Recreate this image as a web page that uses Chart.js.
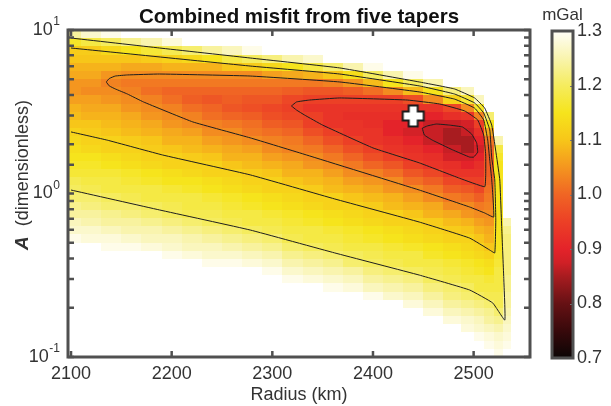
<!DOCTYPE html>
<html>
<head>
<meta charset="utf-8">
<title>Combined misfit from five tapers</title>
<script src="https://cdn.jsdelivr.net/npm/chart.js@4.4.1/dist/chart.umd.min.js"></script>
<style>
  body { margin: 0; background: #fff; }
  #wrap { position: relative; width: 611px; height: 406px; }
  #main { position: absolute; left: 0; top: 0; }
  #bar { position: absolute; left: 535px; top: 0; }
</style>
</head>
<body>
<div id="wrap">
  <canvas id="main" width="611" height="406"></canvas>
  <canvas id="bar" width="76" height="406"></canvas>
</div>
<script>
const _ = null; // off the top of the colour scale (white)

// grid columns: radius (km)
const radius = [2100, 2120, 2140, 2160, 2180, 2200, 2220, 2240, 2260, 2280, 2300, 2320, 2340,
  2360, 2380, 2400, 2420, 2440, 2460, 2480, 2495, 2505, 2515, 2525, 2533];
// grid rows: A (dimensionless), top row first
const amplitude = [9.44, 8.41, 7.50, 6.68, 5.96, 5.31, 4.73, 4.22, 3.76, 3.35,
  2.99, 2.66, 2.37, 2.11, 1.88, 1.68, 1.50, 1.33, 1.19, 1.06,
  0.944, 0.841, 0.750, 0.668, 0.596, 0.531, 0.473, 0.422, 0.376, 0.335,
  0.299, 0.266, 0.237, 0.211, 0.188, 0.168, 0.150, 0.133, 0.119, 0.106];

// combined misfit (mGal), one list per radius column, rows in amplitude order
const misfit = [
  [1.24,1.16,1.11,1.10,1.08,1.07,1.05,1.05,1.06,1.08, 1.09,1.10,1.12,1.13,1.14,1.15,1.16,1.17,1.19,1.20, 1.21,1.23,1.24,1.26,1.27,1.29,_,_,_,_, _,_,_,_,_,_,_,_,_,_],
  [1.27,1.18,1.11,1.10,1.08,1.07,1.05,1.04,1.06,1.07, 1.08,1.10,1.11,1.12,1.13,1.15,1.16,1.17,1.18,1.19, 1.21,1.22,1.24,1.25,1.27,1.28,_,_,_,_, _,_,_,_,_,_,_,_,_,_],
  [1.29,1.20,1.13,1.10,1.08,1.05,1.03,1.04,1.05,1.07, 1.08,1.09,1.10,1.12,1.12,1.14,1.15,1.17,1.18,1.18, 1.20,1.21,1.23,1.24,1.26,1.28,1.29,_,_,_, _,_,_,_,_,_,_,_,_,_],
  [_,1.23,1.15,1.10,1.07,1.04,1.02,1.03,1.04,1.05, 1.07,1.08,1.09,1.11,1.12,1.13,1.14,1.16,1.17,1.18, 1.19,1.21,1.22,1.24,1.25,1.27,1.29,_,_,_, _,_,_,_,_,_,_,_,_,_],
  [_,1.25,1.17,1.11,1.07,1.04,1.02,1.01,1.03,1.04, 1.05,1.07,1.08,1.10,1.11,1.12,1.13,1.15,1.16,1.18, 1.18,1.20,1.21,1.23,1.25,1.26,1.28,_,_,_, _,_,_,_,_,_,_,_,_,_],
  [_,1.28,1.19,1.12,1.08,1.04,1.02,1.00,1.01,1.03, 1.04,1.05,1.07,1.08,1.10,1.12,1.12,1.14,1.15,1.17, 1.18,1.19,1.20,1.22,1.24,1.26,1.27,1.29,_,_, _,_,_,_,_,_,_,_,_,_],
  [_,_,1.21,1.13,1.08,1.04,1.02,1.00,0.99,1.01, 1.03,1.04,1.06,1.08,1.09,1.11,1.12,1.13,1.15,1.16, 1.18,1.18,1.19,1.21,1.23,1.25,1.26,1.28,_,_, _,_,_,_,_,_,_,_,_,_],
  [_,_,1.24,1.15,1.08,1.04,1.02,1.00,0.98,1.00, 1.01,1.03,1.04,1.06,1.08,1.10,1.12,1.12,1.14,1.15, 1.17,1.18,1.19,1.20,1.22,1.24,1.26,1.27,1.29,_, _,_,_,_,_,_,_,_,_,_],
  [_,_,1.26,1.18,1.10,1.04,1.02,1.00,0.99,0.98, 1.00,1.02,1.04,1.05,1.07,1.08,1.10,1.12,1.13,1.14, 1.16,1.17,1.18,1.19,1.21,1.23,1.25,1.27,1.29,_, _,_,_,_,_,_,_,_,_,_],
  [_,_,1.29,1.20,1.11,1.04,1.02,1.00,0.98,0.97, 0.99,1.01,1.02,1.04,1.06,1.08,1.09,1.11,1.12,1.13, 1.15,1.16,1.18,1.18,1.20,1.22,1.24,1.26,1.28,_, _,_,_,_,_,_,_,_,_,_],
  [_,_,_,1.22,1.13,1.06,1.02,1.00,0.98,0.96, 0.97,0.99,1.01,1.03,1.04,1.06,1.08,1.10,1.12,1.12, 1.14,1.15,1.17,1.18,1.19,1.21,1.23,1.25,1.27,1.29, _,_,_,_,_,_,_,_,_,_],
  [_,_,_,1.25,1.15,1.07,1.02,0.99,0.96,0.95, 0.96,0.98,1.00,1.02,1.03,1.05,1.07,1.08,1.10,1.12, 1.13,1.14,1.16,1.17,1.18,1.19,1.21,1.23,1.25,1.27, 1.29,_,_,_,_,_,_,_,_,_],
  [_,_,_,1.27,1.18,1.08,1.02,0.98,0.95,0.93, 0.95,0.95,0.97,1.00,1.02,1.04,1.05,1.08,1.09,1.11, 1.12,1.13,1.15,1.16,1.18,1.18,1.20,1.22,1.24,1.26, 1.28,_,_,_,_,_,_,_,_,_],
  [_,_,_,_,1.21,1.10,1.03,0.98,0.95,0.93, 0.93,0.93,0.95,0.97,1.00,1.02,1.04,1.06,1.08,1.09, 1.12,1.12,1.14,1.15,1.17,1.18,1.19,1.21,1.23,1.25, 1.27,1.29,_,_,_,_,_,_,_,_],
  [_,_,_,_,1.25,1.14,1.05,0.99,0.95,0.93, 0.92,0.93,0.93,0.95,0.97,1.00,1.02,1.04,1.06,1.08, 1.10,1.12,1.13,1.14,1.16,1.17,1.18,1.20,1.21,1.24, 1.26,1.28,_,_,_,_,_,_,_,_],
  [_,_,_,_,1.29,1.20,1.09,1.01,0.95,0.93, 0.92,0.92,0.93,0.93,0.95,0.97,1.00,1.03,1.05,1.07, 1.09,1.11,1.12,1.13,1.15,1.16,1.18,1.19,1.20,1.22, 1.24,1.26,1.29,_,_,_,_,_,_,_],
  [_,_,_,_,_,1.25,1.15,1.04,0.95,0.93, 0.92,0.90,0.90,0.92,0.93,0.95,0.98,1.01,1.04,1.05, 1.08,1.09,1.12,1.12,1.14,1.15,1.17,1.18,1.19,1.21, 1.23,1.25,1.27,_,_,_,_,_,_,_],
  [_,_,_,_,_,1.29,1.20,1.09,0.97,0.93, 0.92,0.90,0.88,0.90,0.92,0.93,0.95,0.98,1.01,1.04, 1.06,1.08,1.10,1.12,1.13,1.14,1.16,1.18,1.18,1.20, 1.22,1.24,1.26,1.28,_,_,_,_,_,_],
  [_,_,_,_,_,_,1.25,1.15,1.04,0.93, 0.90,0.87,0.87,0.87,0.90,0.92,0.93,0.96,0.99,1.02, 1.04,1.07,1.08,1.11,1.12,1.13,1.15,1.16,1.18,1.19, 1.20,1.22,1.24,1.26,1.28,_,_,_,_,_],
  [_,_,_,_,_,_,_,1.22,1.12,0.96, 0.92,0.87,0.85,0.85,0.87,0.88,0.92,0.93,0.96,0.99, 1.02,1.04,1.07,1.09,1.11,1.12,1.14,1.15,1.17,1.18, 1.19,1.21,1.22,1.24,1.26,1.28,_,_,_,_],
  [_,_,_,_,_,_,_,1.26,1.17,1.04, 0.93,0.88,0.87,0.85,0.85,0.88,0.90,0.93,0.95,0.98, 1.01,1.04,1.05,1.08,1.10,1.12,1.13,1.14,1.16,1.17, 1.18,1.20,1.21,1.23,1.25,1.27,1.28,_,_,_],
  [_,_,_,_,_,_,_,_,1.26,1.16, 1.03,0.95,0.92,0.90,0.88,0.90,0.92,0.93,0.95,0.96, 0.99,1.02,1.04,1.06,1.08,1.10,1.12,1.13,1.15,1.16, 1.18,1.18,1.20,1.22,1.24,1.26,1.27,1.29,_,_],
  [_,_,_,_,_,_,_,_,_,_, 1.21,1.15,1.07,1.02,1.00,0.99,0.99,0.99,1.00,1.01, 1.02,1.03,1.04,1.05,1.07,1.08,1.10,1.12,1.14,1.15, 1.17,1.18,1.19,1.21,1.23,1.24,1.26,1.28,1.29,_],
  [_,_,_,_,_,_,_,_,_,_, _,_,_,1.25,1.18,1.16,1.15,1.15,1.15,1.15, 1.15,1.15,1.15,1.15,1.15,1.15,1.15,1.16,1.17,1.18, 1.18,1.18,1.19,1.19,1.21,1.23,1.25,1.27,1.28,1.29],
  [_,_,_,_,_,_,_,_,_,_, _,_,_,_,_,_,_,_,_,_, _,_,_,1.25,1.23,1.22,1.22,1.22,1.22,1.22, 1.23,1.23,1.24,1.24,1.25,1.26,1.27,1.28,1.29,_]
];

// contour lines, [radius km, A]
const contour085 = [[2449,2.51],[2454,2.59],[2463,2.66],[2476,2.62],[2489,2.55],[2498,2.31],[2503,2.04],[2504,1.79],
  [2500,1.67],[2496,1.67],[2479,1.85],[2459,2.12],[2451,2.28],[2449,2.51]];
const contour090 = [[2319,3.43],[2324,3.63],[2337,3.73],[2367,3.84],[2434,3.73],[2466,3.53],[2491,3.20],[2504,2.82],
  [2510,2.28],[2512,1.72],[2512,1.30],[2511,1.10],[2486,1.24],[2446,1.54],[2400,1.90],[2350,2.62],[2332,3.02],
  [2324,3.24],[2319,3.43]];
const contour100 = [[2135,4.81],[2138,5.05],[2144,5.23],[2156,5.31],[2188,5.38],[2278,5.23],[2367,4.81],[2446,4.18],
  [2481,3.78],[2501,3.33],[2510,2.82],[2514,2.12],[2516,1.60],[2518,1.21],[2520,0.718],[2511,0.760],[2496,0.827],
  [2446,1.05],[2334,1.72],[2278,2.19],[2221,2.74],[2172,3.63],[2156,4.06],[2144,4.36],[2138,4.55],[2135,4.81]];
const contour110 = [[2100,7.76],[2278,6.02],[2367,5.38],[2446,4.55],[2481,4.06],[2501,3.58],[2510,3.11],[2516,2.45],
  [2518,1.65],[2521,1.21],[2522,0.689],[2521,0.433],[2516,0.451],[2496,0.534],[2446,0.669],[2362,0.926],[2278,1.30],
  [2191,1.72],[2136,2.12],[2100,2.38]];
const contour120 = [[2100,8.93],[2188,7.76],[2278,6.74],[2367,5.86],[2446,4.81],[2481,4.36],[2501,3.84],[2511,3.33],
  [2518,2.62],[2523,1.65],[2526,1.21],[2528,0.598],[2530,0.296],[2531,0.168],[2519,0.214],[2496,0.257],[2446,0.317],
  [2362,0.433],[2278,0.598],[2188,0.793],[2100,1.05]];

// best fit marker
const bestRadius = 2440;
const bestA = 2.98;

const radiusTicks = [2100, 2200, 2300, 2400, 2500];
const yTickLabels = [[10, '1'], [1, '0'], [0.1, '-1']];
const colorTicks = [0.7, 0.8, 0.9, 1.0, 1.1, 1.2, 1.3];

// colour map, mGal -> colour
const cmapLevels = [0.70, 0.75, 0.80, 0.85, 0.875, 0.90, 0.95, 1.00, 1.05, 1.10, 1.15, 1.20, 1.25, 1.30];
const cmapColors = ['#0b0505', '#38090b', '#661114', '#a81c20', '#d02026', '#e4232a', '#ec4026', '#f06524',
  '#f4961f', '#f7c619', '#f6e41c', '#f5ec5e', '#f9f4ae', '#fffef8'];

const FONT = '"Liberation Sans", Arial, Helvetica, sans-serif';
const TEXT = '#333333';
const FRAME = '#505050';
Chart.defaults.font.family = FONT;

function hexRgb(h) {
  return [parseInt(h.slice(1, 3), 16), parseInt(h.slice(3, 5), 16), parseInt(h.slice(5, 7), 16)];
}
function colorFor(v) {
  if (v <= cmapLevels[0]) return cmapColors[0];
  for (let i = 1; i < cmapLevels.length; i++) {
    if (v <= cmapLevels[i]) {
      const t = (v - cmapLevels[i - 1]) / (cmapLevels[i] - cmapLevels[i - 1]);
      const a = hexRgb(cmapColors[i - 1]), b = hexRgb(cmapColors[i]);
      return 'rgb(' + a.map((c, k) => Math.round(c + (b[k] - c) * t)).join(',') + ')';
    }
  }
  return cmapColors[cmapColors.length - 1];
}

// cell boundaries half way between grid centres
function edges(c, log) {
  const v = log ? c.map(Math.log10) : c.slice();
  const e = [v[0] - (v[1] - v[0]) / 2];
  for (let i = 1; i < v.length; i++) e.push((v[i - 1] + v[i]) / 2);
  e.push(v[v.length - 1] + (v[v.length - 1] - v[v.length - 2]) / 2);
  return log ? e.map(x => Math.pow(10, x)) : e;
}

const heatmap = {
  id: 'heatmap',
  beforeDatasetsDraw(chart) {
    const { ctx, chartArea: a, scales: { x, y } } = chart;
    const xe = edges(radius, false), ye = edges(amplitude, true);
    ctx.save();
    ctx.beginPath();
    ctx.rect(a.left, a.top, a.width, a.height);
    ctx.clip();
    misfit.forEach((col, i) => {
      const x0 = Math.round(x.getPixelForValue(xe[i])), x1 = Math.round(x.getPixelForValue(xe[i + 1]));
      col.forEach((v, j) => {
        if (v == null) return;
        const y0 = Math.round(y.getPixelForValue(ye[j])), y1 = Math.round(y.getPixelForValue(ye[j + 1]));
        ctx.fillStyle = colorFor(v);
        ctx.fillRect(x0, y0, x1 - x0, y1 - y0);
      });
    });
    ctx.restore();
  }
};

const frame = {
  id: 'frame',
  afterDatasetsDraw(chart) {
    const { ctx, chartArea: a, scales: { x, y } } = chart;
    ctx.save();
    ctx.strokeStyle = FRAME;
    ctx.lineWidth = 2.5;
    ctx.beginPath();
    radiusTicks.forEach(v => {
      const px = x.getPixelForValue(v);
      ctx.moveTo(px, a.bottom); ctx.lineTo(px, a.bottom - 6);
      ctx.moveTo(px, a.top); ctx.lineTo(px, a.top + 6);
    });
    y.ticks.forEach(t => {
      const py = y.getPixelForValue(t.value);
      ctx.moveTo(a.left, py); ctx.lineTo(a.left + 6, py);
      ctx.moveTo(a.right, py); ctx.lineTo(a.right - 6, py);
    });
    ctx.stroke();
    ctx.lineWidth = 3;
    ctx.strokeRect(a.left, a.top, a.width, a.height);

    // y tick labels with exponents
    ctx.fillStyle = TEXT;
    ctx.textBaseline = 'middle';
    ctx.textAlign = 'left';
    yTickLabels.forEach(([v, e]) => {
      const py = y.getPixelForValue(v);
      ctx.font = '12px ' + FONT;
      const ew = ctx.measureText(e).width;
      const ex = a.left - 8 - ew;
      ctx.fillText(e, ex, py - 8);
      ctx.font = '18px ' + FONT;
      const bw = ctx.measureText('10').width;
      ctx.fillText('10', ex - bw - 0.5, py);
    });

    // y axis title
    ctx.save();
    ctx.translate(23, 175);
    ctx.rotate(-Math.PI / 2);
    ctx.font = 'italic bold 19px ' + FONT;
    const wA = ctx.measureText('A').width;
    ctx.font = '18px ' + FONT;
    const rest = '  (dimensionless)';
    const wR = ctx.measureText(rest).width;
    const sx = -(wA + wR) / 2;
    ctx.font = 'italic bold 19px ' + FONT;
    ctx.fillText('A', sx, 0);
    ctx.font = '18px ' + FONT;
    ctx.fillText(rest, sx + wA, 0);
    ctx.restore();

    // title
    ctx.fillStyle = '#111';
    ctx.font = 'bold 20.5px ' + FONT;
    ctx.textAlign = 'center';
    ctx.fillText('Combined misfit from five tapers', (a.left + a.right) / 2, 17);
    ctx.restore();
  }
};

function plusImage() {
  const c = document.createElement('canvas');
  c.width = 26; c.height = 26;
  const g = c.getContext('2d');
  const m = 13, h = 10.5, w = 4.5;
  g.beginPath();
  g.moveTo(m - w, m - h); g.lineTo(m + w, m - h); g.lineTo(m + w, m - w); g.lineTo(m + h, m - w);
  g.lineTo(m + h, m + w); g.lineTo(m + w, m + w); g.lineTo(m + w, m + h); g.lineTo(m - w, m + h);
  g.lineTo(m - w, m + w); g.lineTo(m - h, m + w); g.lineTo(m - h, m - w); g.lineTo(m - w, m - w);
  g.closePath();
  g.fillStyle = '#ffffff';
  g.fill();
  g.strokeStyle = '#1a1a1a';
  g.lineWidth = 2;
  g.stroke();
  return c;
}

function contourSet(points) {
  return {
    type: 'scatter',
    data: points.map(p => ({ x: p[0], y: p[1] })),
    showLine: true,
    borderColor: '#1e1e1e',
    borderWidth: 1,
    pointRadius: 0,
    tension: 0.1,
    fill: false,
    order: 2
  };
}

new Chart(document.getElementById('main'), {
  type: 'scatter',
  data: {
    datasets: [
      {
        data: [{ x: bestRadius, y: bestA }],
        pointStyle: plusImage(),
        pointRadius: 11,
        order: 0
      },
      contourSet(contour085),
      contourSet(contour090),
      contourSet(contour100),
      contourSet(contour110),
      contourSet(contour120)
    ]
  },
  options: {
    responsive: false,
    animation: false,
    events: [],
    layout: { padding: { left: 10, right: 81, top: 30, bottom: 0 } },
    plugins: { legend: { display: false }, tooltip: { enabled: false } },
    scales: {
      x: {
        type: 'linear',
        min: 2097,
        max: 2556,
        afterBuildTicks: s => { s.ticks = radiusTicks.map(v => ({ value: v })); },
        afterFit: s => { s.height = 49; },
        ticks: { color: TEXT, font: { size: 18 }, padding: 6, maxRotation: 0, callback: v => String(v) },
        grid: { display: false, drawTicks: false },
        border: { display: false },
        title: { display: true, text: 'Radius (km)', color: TEXT, font: { size: 18 }, padding: { top: 0, bottom: 0 } }
      },
      y: {
        type: 'logarithmic',
        min: 0.1,
        max: 10,
        afterFit: s => { s.width = 58; },
        ticks: { display: false },
        grid: { display: false, drawTicks: false },
        border: { display: false }
      }
    }
  },
  plugins: [heatmap, frame]
});

// colour bar
const barFrame = {
  id: 'barFrame',
  afterDatasetsDraw(chart) {
    const { ctx, chartArea: a, scales: { y } } = chart;
    ctx.save();
    ctx.strokeStyle = '#777';
    ctx.lineWidth = 1;
    ctx.beginPath();
    colorTicks.forEach(v => {
      const py = Math.round(y.getPixelForValue(v)) + 0.5;
      ctx.moveTo(a.right, py); ctx.lineTo(a.right - 3, py);
    });
    ctx.stroke();
    ctx.strokeStyle = FRAME;
    ctx.lineWidth = 3;
    ctx.strokeRect(a.left, a.top, a.width, a.height);
    ctx.fillStyle = TEXT;
    ctx.font = '17px ' + FONT;
    ctx.textAlign = 'center';
    ctx.textBaseline = 'middle';
    ctx.fillText('mGal', (a.left + a.right) / 2, 15);
    ctx.restore();
  }
};

new Chart(document.getElementById('bar'), {
  type: 'bar',
  data: {
    labels: [''],
    datasets: [{
      data: [[0.7, 1.3]],
      backgroundColor: c => {
        const ch = c.chart;
        if (!ch.chartArea) return null;
        const y = ch.scales.y;
        const g = ch.ctx.createLinearGradient(0, y.getPixelForValue(0.7), 0, y.getPixelForValue(1.3));
        cmapLevels.forEach((l, i) => g.addColorStop(Math.min(1, Math.max(0, (l - 0.7) / 0.6)), cmapColors[i]));
        return g;
      },
      borderWidth: 0,
      barPercentage: 1,
      categoryPercentage: 1
    }]
  },
  options: {
    responsive: false,
    animation: false,
    events: [],
    layout: { padding: { left: 17, right: 0, top: 31, bottom: 48 } },
    plugins: { legend: { display: false }, tooltip: { enabled: false } },
    scales: {
      x: { display: false },
      y: {
        position: 'right',
        min: 0.7,
        max: 1.3,
        afterBuildTicks: s => { s.ticks = colorTicks.map(v => ({ value: v })); },
        afterFit: s => { s.width = 38; },
        ticks: { color: TEXT, font: { size: 18 }, padding: 4, callback: v => Number(v).toFixed(1) },
        grid: { display: false, drawTicks: false },
        border: { display: false }
      }
    }
  },
  plugins: [barFrame]
});
</script>
</body>
</html>
